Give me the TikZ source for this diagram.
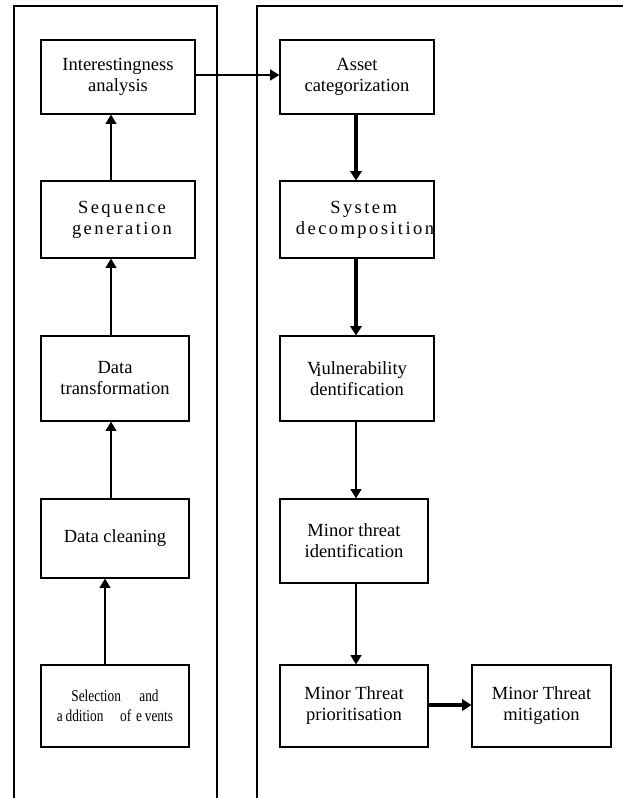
\documentclass[tikz,border=0pt]{standalone}
\usepackage{fontspec}
\setmainfont{Liberation Serif}
\newfontfamily\spacedfont[LetterSpace=13]{Liberation Serif}
\newfontfamily\narrowfont[FakeStretch=0.8]{Liberation Serif}
\usetikzlibrary{arrows.meta}

\begin{document}
\begin{tikzpicture}[x=0.75pt,y=-0.75pt,
  box/.style={draw,line width=0.8pt,inner sep=0pt,align=center,
    font=\fontsize{13.9}{15.75}\selectfont},
  spaced/.style={font=\spacedfont\fontsize{13.9}{15.75}\selectfont},
  small/.style={font=\narrowfont\fontsize{12.5}{15}\selectfont},
  flow/.style={line width=1.5pt,-{Triangle[width=8pt,length=7pt]}},
  bigflow/.style={line width=2.3pt,-{Triangle[width=8.5pt,length=7pt]}}]
\useasboundingbox (0,0) rectangle (623,798);

% frames
\draw[line width=1pt] (14,798) -- (14,6) -- (217,6) -- (217,798);
\draw[line width=1pt] (257,798) -- (257,6) -- (623,6);

% left column
\node[box,minimum width=115.5pt,minimum height=55.5pt] (intr) at (118,77) {Interestingness\\analysis};
\node[box,spaced,minimum width=115.5pt,minimum height=57.75pt] (seqg) at (118,219.5)
  {\hspace*{6pt}Sequence\\\hspace*{6pt}generation};
\node[box,minimum width=111pt,minimum height=63.75pt] (dtra) at (115,378.5) {Data\\transformation};
\node[box,minimum width=111pt,minimum height=59.25pt] (dcln) at (115,538.5) {Data cleaning};
\node[box,small,minimum width=111pt,minimum height=61.5pt] (selc) at (115,706)
  {Selection\hspace{1.1em}and\\a\,ddition\hspace{1em}of\hspace{0.3em}e\,vents};

% right column
\node[box,minimum width=115.5pt,minimum height=55.5pt] (asst) at (357,77) {Asset\\categorization};
\node[box,spaced,minimum width=115.5pt,minimum height=57.75pt] (sysd) at (357,219.5)
  {\hspace*{10pt}System\\\hspace*{12pt}decomposition};
\node[box,minimum width=115.5pt,minimum height=63.75pt] (vuln) at (357,378.5) {V\kern-0.22em\raisebox{-0.1em}{i}ulnerability\\dentification};
\node[box,minimum width=111pt,minimum height=63pt] (mthi) at (354,541) {Minor threat\\identification};
\node[box,minimum width=111pt,minimum height=61.5pt] (mthp) at (354,706) {Minor Threat\\prioritisation};
\node[box,minimum width=104.25pt,minimum height=61.5pt] (mthm) at (541.5,706) {Minor Threat\\mitigation};

% connectors
\coordinate (lx) at (111,0);
\coordinate (sx) at (105,0);
\coordinate (rx) at (356,0);
\coordinate (ty) at (0,75);
\coordinate (py) at (0,705);
\draw[flow] (seqg.north -| lx) -- (intr.south -| lx);
\draw[flow] (dtra.north -| lx) -- (seqg.south -| lx);
\draw[flow] (dcln.north -| lx) -- (dtra.south -| lx);
\draw[flow] (selc.north -| sx) -- (dcln.south -| sx);
\draw[flow] (intr.east |- ty) -- (asst.west |- ty);
\draw[bigflow] (asst.south -| rx) -- (sysd.north -| rx);
\draw[bigflow] (sysd.south -| rx) -- (vuln.north -| rx);
\draw[flow] (vuln.south -| rx) -- (mthi.north -| rx);
\draw[flow] (mthi.south -| rx) -- (mthp.north -| rx);
\draw[bigflow] (mthp.east |- py) -- (mthm.west |- py);
\end{tikzpicture}
\end{document}
